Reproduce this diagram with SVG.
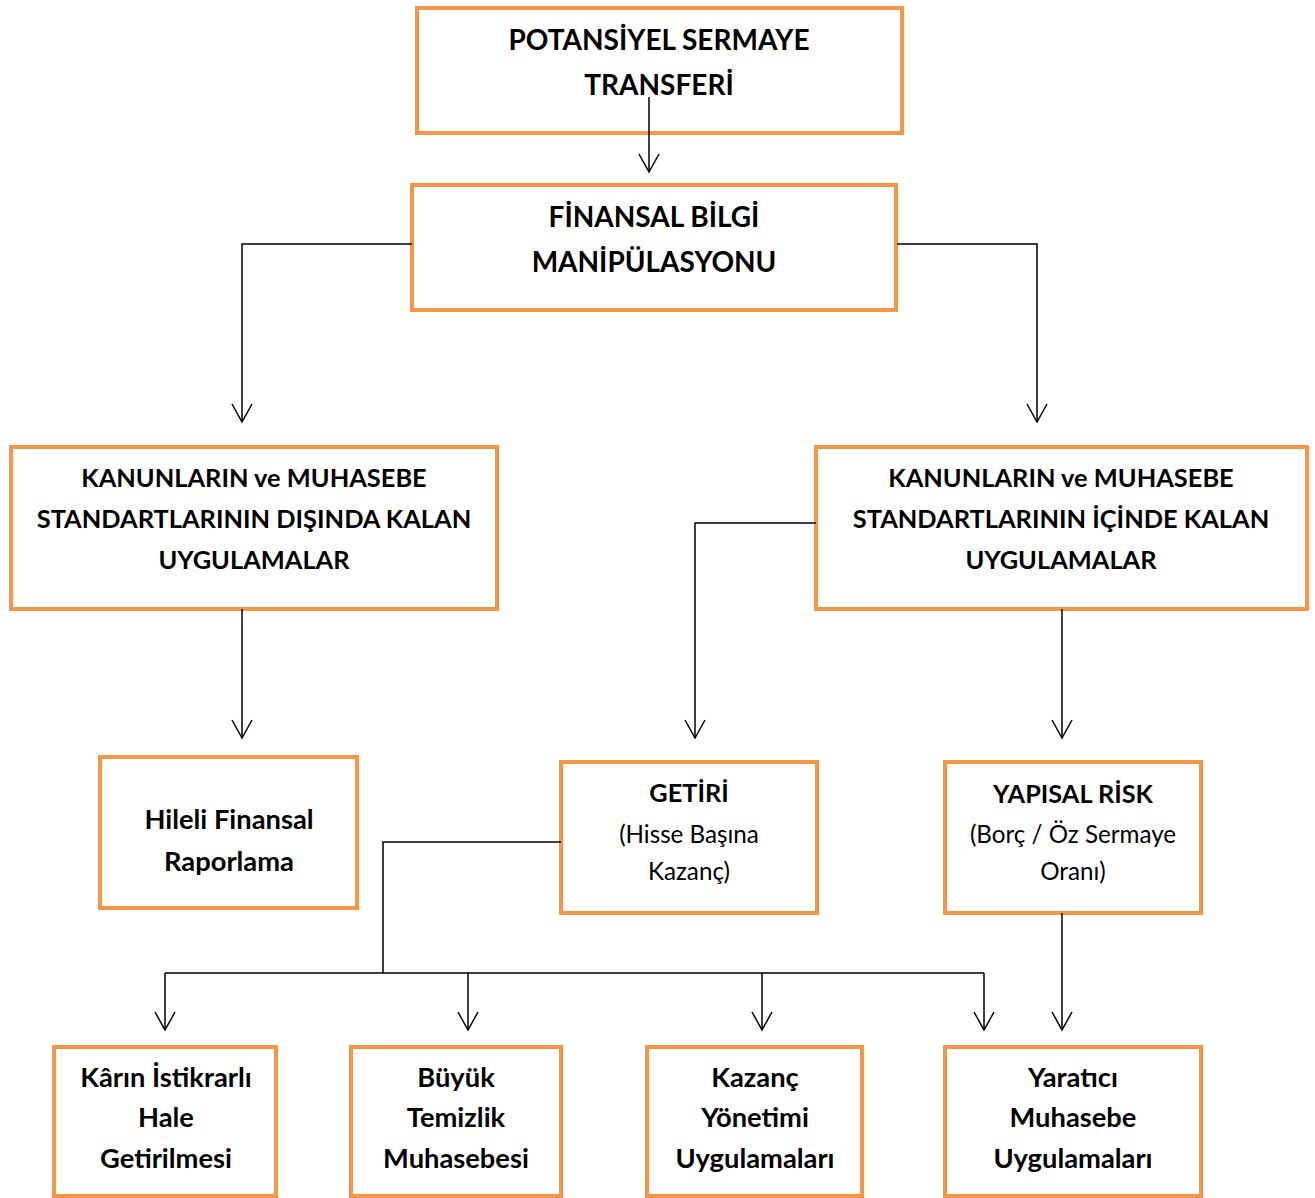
<svg xmlns="http://www.w3.org/2000/svg" width="1315" height="1198" viewBox="0 0 1315 1198">
<style>
.box{fill:#fff;stroke:#F79646;stroke-width:4}
.t{font-family:Lato,"Liberation Sans",sans-serif;font-weight:bold;fill:#000;text-anchor:middle}
.big{font-size:28px}
.mid{font-size:25.4px}
.bot{font-size:27.3px}
.hd{font-size:25.3px}
.reg{font-weight:normal;font-size:24.2px}
.ln{fill:none;stroke:#000;stroke-width:1.5}
</style>
<defs>
<marker id="v" markerWidth="24" markerHeight="24" viewBox="0 0 24 24" refX="22" refY="12" markerUnits="userSpaceOnUse" orient="auto">
<path d="M4 2 L22 12 L4 22" fill="none" stroke="#000" stroke-width="1.5"/>
</marker>
</defs>
<g id="n1"><rect class="box" x="417" y="8" width="485" height="125"/>
<text class="t big" x="659" y="50">POTANSİYEL SERMAYE</text>
<text class="t big" x="659" y="95">TRANSFERİ</text></g>
<g id="n2"><rect class="box" x="412" y="185" width="484" height="125"/>
<text class="t big" x="654" y="227">FİNANSAL BİLGİ</text>
<text class="t big" x="654" y="272">MANİPÜLASYONU</text></g>
<g id="n3"><rect class="box" x="11" y="447" width="486" height="162"/>
<text class="t mid" x="254" y="487">KANUNLARIN ve MUHASEBE</text>
<text class="t mid" x="254" y="528">STANDARTLARININ DIŞINDA KALAN</text>
<text class="t mid" x="254" y="569">UYGULAMALAR</text></g>
<g id="n4"><rect class="box" x="816" y="447" width="491" height="162"/>
<text class="t mid" x="1061" y="487">KANUNLARIN ve MUHASEBE</text>
<text class="t mid" x="1061" y="528">STANDARTLARININ İÇİNDE KALAN</text>
<text class="t mid" x="1061" y="569">UYGULAMALAR</text></g>
<g id="n5"><rect class="box" x="100" y="757" width="257" height="151"/>
<text class="t bot" x="229" y="829">Hileli Finansal</text>
<text class="t bot" x="229" y="871">Raporlama</text></g>
<g id="n6"><rect class="box" x="561" y="762" width="256" height="151"/>
<text class="t hd" x="689" y="802">GETİRİ</text>
<text class="t reg" x="689" y="843">(Hisse Başına</text>
<text class="t reg" x="689" y="880">Kazanç)</text></g>
<g id="n7"><rect class="box" x="945" y="762" width="256" height="151"/>
<text class="t hd" x="1073" y="803">YAPISAL RİSK</text>
<text class="t reg" x="1073" y="843">(Borç / Öz Sermaye</text>
<text class="t reg" x="1073" y="880">Oranı)</text></g>
<g id="n8"><rect class="box" x="54" y="1047" width="222" height="149"/>
<text class="t bot" x="166" y="1087">Kârın İstikrarlı</text>
<text class="t bot" x="166" y="1127">Hale</text>
<text class="t bot" x="166" y="1168">Getirilmesi</text></g>
<g id="n9"><rect class="box" x="351" y="1047" width="210" height="149"/>
<text class="t bot" x="456" y="1087">Büyük</text>
<text class="t bot" x="456" y="1127">Temizlik</text>
<text class="t bot" x="456" y="1168">Muhasebesi</text></g>
<g id="n10"><rect class="box" x="647" y="1047" width="215" height="149"/>
<text class="t bot" x="755" y="1087">Kazanç</text>
<text class="t bot" x="755" y="1127">Yönetimi</text>
<text class="t bot" x="755" y="1168">Uygulamaları</text></g>
<g id="n11"><rect class="box" x="945" y="1047" width="256" height="149"/>
<text class="t bot" x="1073" y="1087">Yaratıcı</text>
<text class="t bot" x="1073" y="1127">Muhasebe</text>
<text class="t bot" x="1073" y="1168">Uygulamaları</text></g>
<g id="connectors">
<path class="ln" d="M649 97 V172" marker-end="url(#v)"/>
<path class="ln" d="M412 244 H242 V422" marker-end="url(#v)"/>
<path class="ln" d="M897 244 H1037 V422" marker-end="url(#v)"/>
<path class="ln" d="M242 609 V738" marker-end="url(#v)"/>
<path class="ln" d="M816 523 H695 V738" marker-end="url(#v)"/>
<path class="ln" d="M1062 609 V738" marker-end="url(#v)"/>
<path class="ln" d="M561 842 H383 V973"/>
<path class="ln" d="M165 973 H984"/>
<path class="ln" d="M165 973 V1030" marker-end="url(#v)"/>
<path class="ln" d="M468 973 V1030" marker-end="url(#v)"/>
<path class="ln" d="M762 973 V1030" marker-end="url(#v)"/>
<path class="ln" d="M984 973 V1030" marker-end="url(#v)"/>
<path class="ln" d="M1062 913 V1030" marker-end="url(#v)"/>
</g>
</svg>
